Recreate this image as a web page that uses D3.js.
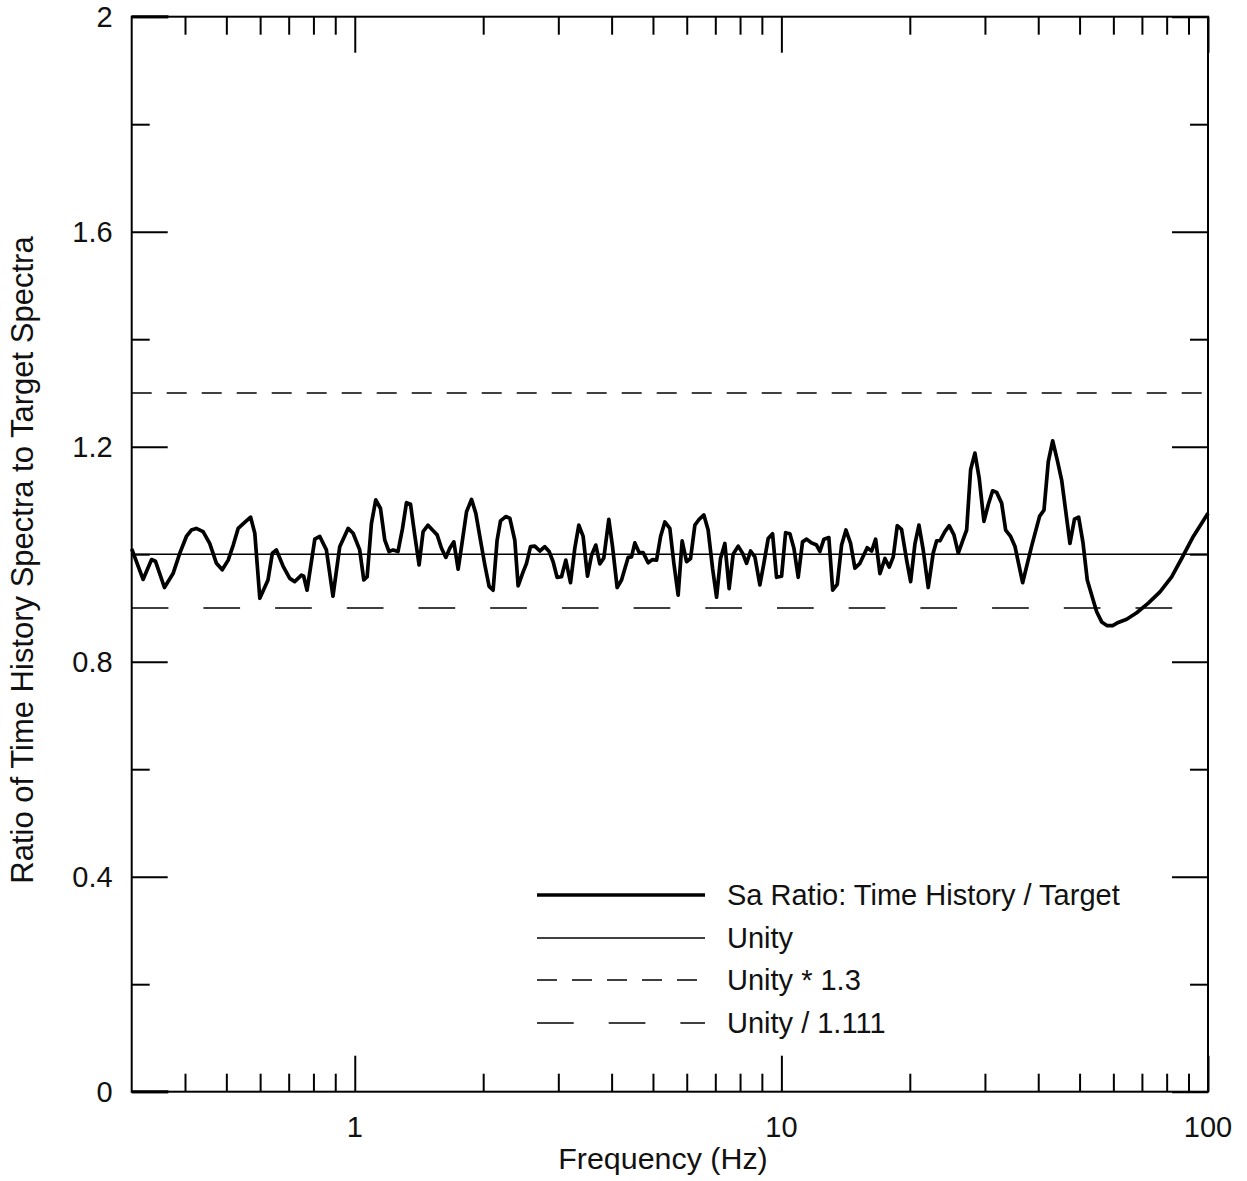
<!DOCTYPE html>
<html><head><meta charset="utf-8">
<script src="https://cdn.jsdelivr.net/npm/d3@7/dist/d3.min.js"></script>
<style>html,body{margin:0;padding:0;background:#fff}svg{display:block}</style>
</head><body>
<svg id="chart" width="1247" height="1181"></svg>
<script>
// ---- data ----
const freq = [0.3,0.319,0.334,0.341,0.358,0.375,0.389,0.403,0.414,0.425,0.441,0.457,0.474,0.489,0.505,0.519,0.533,0.552,0.570,0.583,
0.599,0.626,0.641,0.655,0.679,0.704,0.723,0.750,0.759,0.773,0.806,0.828,0.858,0.889,0.922,0.965,0.991,1.027,1.050,1.069,
1.094,1.120,1.149,1.176,1.203,1.230,1.263,1.294,1.322,1.351,1.382,1.415,1.446,1.485,1.521,1.560,1.597,1.635,1.670,1.707,
1.747,1.779,1.828,1.878,1.922,1.971,2.018,2.065,2.110,2.156,2.196,2.259,2.309,2.372,2.415,2.481,2.527,2.582,2.642,2.715,
2.789,2.855,2.917,2.980,3.052,3.124,3.204,3.279,3.351,3.430,3.512,3.589,3.673,3.753,3.835,3.940,4.020,4.121,4.220,4.373,
4.454,4.534,4.640,4.742,4.872,4.989,5.098,5.210,5.331,5.477,5.597,5.728,5.853,5.993,6.125,6.269,6.416,6.581,6.735,6.897,
7.048,7.200,7.370,7.543,7.708,7.919,8.109,8.286,8.468,8.667,8.904,9.098,9.312,9.535,9.743,10.01,10.23,10.47,10.70,10.95,
11.21,11.46,11.77,12.09,12.31,12.58,12.92,13.19,13.52,13.84,14.17,14.53,14.87,15.28,15.89,16.28,16.63,17.02,17.49,17.90,
18.29,18.69,19.13,19.66,20.09,20.56,21.01,21.50,22.09,22.69,23.12,23.53,24.17,24.74,25.38,25.98,26.60,27.18,27.77,28.42,
29.09,29.84,30.54,31.27,31.96,32.83,33.55,34.46,35.27,36.77,38.60,40.31,41.26,42.23,43.24,44.33,45.39,47.47,48.64,49.75,
50.92,52.12,53.37,54.83,56.33,58.06,59.77,61.61,64.47,68.06,72.46,77.18,82.19,86.75,92.38,100];
const ratio = [1.010,0.953,0.990,0.987,0.938,0.964,1.002,1.033,1.045,1.048,1.042,1.020,0.983,0.971,0.989,1.017,1.048,1.059,1.069,1.039,
0.918,0.952,1.002,1.008,0.978,0.955,0.949,0.961,0.959,0.933,1.028,1.033,1.008,0.922,1.014,1.048,1.039,1.008,0.952,0.958,
1.057,1.101,1.085,1.026,1.005,1.008,1.005,1.048,1.096,1.093,1.036,0.980,1.042,1.054,1.045,1.036,1.011,0.994,1.011,1.023,
0.972,1.014,1.079,1.102,1.076,1.026,0.980,0.940,0.933,1.026,1.062,1.070,1.067,1.026,0.941,0.967,0.983,1.014,1.015,1.006,
1.014,1.005,0.986,0.957,0.958,0.989,0.947,1.011,1.054,1.033,0.959,0.998,1.017,0.982,0.993,1.065,1.014,0.938,0.952,0.994,
0.995,1.021,1.003,1.003,0.984,0.990,0.989,1.033,1.060,1.048,0.983,0.924,1.025,0.986,0.992,1.054,1.065,1.073,1.045,0.974,
0.920,0.992,1.020,0.936,1.000,1.015,1.002,0.983,1.006,0.995,0.943,0.983,1.029,1.038,0.957,0.959,1.040,1.038,1.011,0.957,
1.023,1.028,1.021,1.017,1.005,1.028,1.031,0.933,0.944,1.017,1.045,1.020,0.974,0.983,1.012,1.006,1.028,0.964,0.992,0.976,
0.995,1.053,1.046,0.989,0.949,1.019,1.054,1.008,0.938,1.002,1.025,1.025,1.042,1.053,1.036,1.002,1.025,1.045,1.157,1.188,
1.141,1.061,1.092,1.118,1.115,1.095,1.045,1.033,1.015,0.947,1.015,1.071,1.082,1.172,1.211,1.175,1.138,1.020,1.065,1.069,
1.022,0.952,0.924,0.893,0.874,0.867,0.867,0.873,0.879,0.891,0.909,0.930,0.958,0.992,1.033,1.076];

const refValues = [1.0, 1.3, 0.9];              // Unity, Unity*1.3, Unity/1.111
const legendLabels = ["Sa Ratio: Time History / Target", "Unity", "Unity * 1.3", "Unity / 1.111"];
const xMajorTicks = [1, 10, 100];
const xMinorTicks = [0.4,0.5,0.6,0.7,0.8,0.9,2,3,4,5,6,7,8,9,20,30,40,50,60,70,80,90];
const xTickLabels = ["1", "10", "100"];
const yMajorTicks = [0, 0.4, 0.8, 1.2, 1.6, 2];
const yMinorTicks = [0.2, 0.6, 1.0, 1.4, 1.8];
const yTickLabels = ["0", "0.4", "0.8", "1.2", "1.6", "2"];
const xTitle = "Frequency (Hz)";
const yTitle = "Ratio of Time History Spectra to Target Spectra";

// ---- layout ----
const L = 131.7, R = 1208, T = 16.7, B = 1091.7;
const FONT = "'Liberation Sans', Arial, Helvetica, sans-serif";
const svg = d3.select("#chart");
const x = d3.scaleLog().domain([0.3, 100]).range([L, R]);
const y = d3.scaleLinear().domain([0, 2]).range([B, T]);

// reference lines
const dashes = [null, "20,15", "36.7,35"];
const refG = svg.append("g");
refValues.forEach((v, i) => {
  refG.append("line").attr("x1", L).attr("x2", R).attr("y1", y(v)).attr("y2", y(v))
    .attr("stroke", "#000").attr("stroke-width", 1.6)
    .attr("stroke-dasharray", dashes[i]);
});

// series
const pts = freq.map((f, i) => [f, ratio[i]]);
svg.append("path").datum(pts)
  .attr("fill", "none").attr("stroke", "#000").attr("stroke-width", 3.7)
  .attr("stroke-linejoin", "round")
  .attr("d", d3.line().x(d => x(d[0])).y(d => y(d[1])));

// axes (inward ticks)
function styleAxis(g) {
  g.select(".domain").remove();
  g.selectAll(".tick line").attr("stroke", "#000").attr("stroke-width", 2);
  g.selectAll(".tick text").remove();
}
svg.append("g").attr("transform", `translate(0,${B})`)
  .call(d3.axisBottom(x).tickValues(xMajorTicks).tickSize(-36)).call(styleAxis);
svg.append("g").attr("transform", `translate(0,${B})`)
  .call(d3.axisBottom(x).tickValues(xMinorTicks).tickSize(-18)).call(styleAxis);
svg.append("g").attr("transform", `translate(0,${T})`)
  .call(d3.axisTop(x).tickValues(xMajorTicks).tickSize(-36)).call(styleAxis);
svg.append("g").attr("transform", `translate(0,${T})`)
  .call(d3.axisTop(x).tickValues(xMinorTicks).tickSize(-18)).call(styleAxis);
svg.append("g").attr("transform", `translate(${L},0)`)
  .call(d3.axisLeft(y).tickValues(yMajorTicks).tickSize(-36)).call(styleAxis);
svg.append("g").attr("transform", `translate(${L},0)`)
  .call(d3.axisLeft(y).tickValues(yMinorTicks).tickSize(-18)).call(styleAxis);
svg.append("g").attr("transform", `translate(${R},0)`)
  .call(d3.axisRight(y).tickValues(yMajorTicks).tickSize(-36)).call(styleAxis);
svg.append("g").attr("transform", `translate(${R},0)`)
  .call(d3.axisRight(y).tickValues(yMinorTicks).tickSize(-18)).call(styleAxis);

// frame
svg.append("rect").attr("x", L).attr("y", T).attr("width", R - L).attr("height", B - T)
  .attr("fill", "none").attr("stroke", "#000").attr("stroke-width", 2);
[T, B].forEach(yy => svg.append("line").attr("x1", L).attr("x2", L + 36.7)
  .attr("y1", yy).attr("y2", yy).attr("stroke", "#000").attr("stroke-width", 3));

// tick labels
svg.append("g").selectAll("text").data(xMajorTicks).join("text")
  .attr("x", d => x(d)).attr("y", B + 45).attr("text-anchor", "middle")
  .attr("font-family", FONT).attr("font-size", 29).attr("fill", "#111")
  .text((d, i) => xTickLabels[i]);
svg.append("g").selectAll("text").data(yMajorTicks).join("text")
  .attr("x", L - 19).attr("y", d => y(d) + 10).attr("text-anchor", "end")
  .attr("font-family", FONT).attr("font-size", 29).attr("fill", "#111")
  .text((d, i) => yTickLabels[i]);

// titles
svg.append("text").attr("x", 663).attr("y", 1169).attr("text-anchor", "middle")
  .attr("font-family", FONT).attr("font-size", 30.4).attr("fill", "#111").text(xTitle);
svg.append("text").attr("transform", "translate(33,560) rotate(-90)").attr("text-anchor", "middle")
  .attr("font-family", FONT).attr("font-size", 31).attr("fill", "#111").text(yTitle);

// legend
const legY = [895, 938, 980, 1023];
const legW = [3.7, 1.6, 1.6, 1.6];
const legDash = [null, null, "20,15", "36.7,35"];
const lg = svg.append("g");
legendLabels.forEach((lab, i) => {
  lg.append("line").attr("x1", 537).attr("x2", 705).attr("y1", legY[i]).attr("y2", legY[i])
    .attr("stroke", "#000").attr("stroke-width", legW[i]).attr("stroke-dasharray", legDash[i]);
  lg.append("text").attr("x", 727).attr("y", legY[i] + 10)
    .attr("font-family", FONT).attr("font-size", 29).attr("fill", "#111").text(lab);
});
</script>
</body></html>
